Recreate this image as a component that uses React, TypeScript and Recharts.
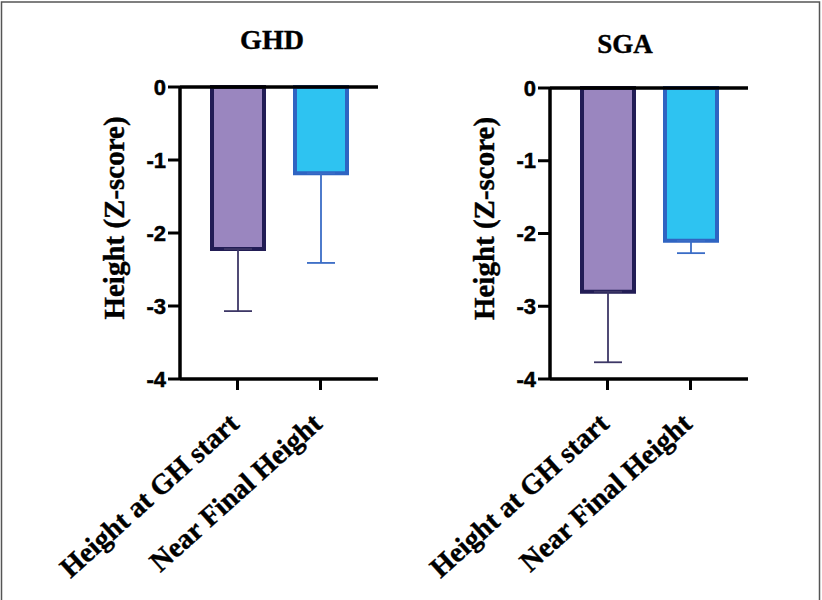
import React from "react";
import { BarChart, Bar, XAxis, YAxis, ErrorBar, ReferenceLine } from "recharts";

const categories = ["Height at GH start", "Near Final Height"];
const ghdMean = [-2.22, -1.18];
const ghdSd = [0.85, 1.23];
const sgaMean = [-2.8, -2.1];
const sgaSd = [0.97, 0.17];
const yTicks = [0, -1, -2, -3, -4];

const serif = "Liberation Serif";
const sans = "Liberation Sans";

// one row per category; each bar lives in its own series so it can have its own colours
const buildRows = (mean: number[], sd: number[]) =>
  categories.map((name, i) => ({
    name,
    start: i === 0 ? mean[i] : null,
    startErr: i === 0 ? [sd[i], 0] : null,
    final: i === 1 ? mean[i] : null,
    finalErr: i === 1 ? [sd[i], 0] : null,
  }));

const XTick = (props: any) => {
  const { x, y, payload } = props;
  return (
    <g transform={`translate(${x + 3},${y + 34}) rotate(-42)`}>
      <text x={0} y={0} textAnchor="end" fontFamily={serif} fontWeight={700} fontSize={28.5} fill="#000" stroke="#000" strokeWidth={0.4}>
        {payload.value}
      </text>
    </g>
  );
};

const YTick = (props: any) => {
  const { x, y, payload } = props;
  return (
    <text x={x} y={y + 7.5} textAnchor="end" fontFamily={sans} fontWeight={700} fontSize={22} fill="#000" stroke="#000" strokeWidth={0.5}>
      {payload.value}
    </text>
  );
};

const YLabel = (props: any) => {
  const vb = props.viewBox;
  const x = vb.x + 24;
  const y = vb.y + vb.height / 2 - 15;
  return (
    <text x={x} y={y} transform={`rotate(-90, ${x}, ${y})`} textAnchor="middle" fontFamily={serif} fontWeight={700} fontSize={29} fill="#000" stroke="#000" strokeWidth={0.4}>
      Height (Z-score)
    </text>
  );
};

const Panel: React.FC<{ mean: number[]; sd: number[]; left: number; top: number }> = ({ mean, sd, left, top }) => {
  const rows = buildRows(mean, sd);
  return (
    <div style={{ position: "absolute", left, top: 0 }}>
      <BarChart width={411} height={600} data={rows} margin={{ top, right: 33, bottom: 21, left: 100 }}>
        <XAxis
          xAxisId="a"
          dataKey="name"
          height={200}
          padding={{ left: 16, right: 16 }}
          axisLine={{ stroke: "#000", strokeWidth: 3.5 }}
          tickLine={{ stroke: "#000", strokeWidth: 3 }}
          tickSize={11}
          tickMargin={2}
          interval={0}
          tick={<XTick />}
        />
        <XAxis xAxisId="b" dataKey="name" hide padding={{ left: 16, right: 16 }} />
        <YAxis
          domain={[-4, 0]}
          ticks={yTicks}
          width={80}
          interval={0}
          axisLine={{ stroke: "#000", strokeWidth: 3.5 }}
          tickLine={{ stroke: "#000", strokeWidth: 3 }}
          tickSize={12}
          tickMargin={2}
          tick={<YTick />}
          label={<YLabel />}
        />
        <Bar xAxisId="a" dataKey="start" barSize={52} fill="#9A86BF" stroke="#221D55" strokeWidth={4} isAnimationActive={false}>
          <ErrorBar dataKey="startErr" direction="y" width={14} stroke="#3D3766" strokeWidth={1.8} isAnimationActive={false} />
        </Bar>
        <Bar xAxisId="b" dataKey="final" barSize={52} fill="#2EC3F1" stroke="#2F64C2" strokeWidth={4} isAnimationActive={false}>
          <ErrorBar dataKey="finalErr" direction="y" width={14} stroke="#3A6CC6" strokeWidth={1.8} isAnimationActive={false} />
        </Bar>
        <ReferenceLine xAxisId="a" y={0} stroke="#000" strokeWidth={3.5} />
      </BarChart>
    </div>
  );
};

export default function App() {
  return (
    <div style={{ position: "absolute", left: 0, top: 0, width: 822, height: 600, background: "#fff", overflow: "hidden" }}>
      <Panel mean={ghdMean} sd={ghdSd} left={0} top={87} />
      <Panel mean={sgaMean} sd={sgaSd} left={370} top={88} />
      <svg width={822} height={600} style={{ position: "absolute", left: 0, top: 0, pointerEvents: "none" }}>
        <rect x={1.5} y={2} width={818} height={610} fill="none" stroke="#555" strokeWidth={1.5} />
        <text x={272} y={49} textAnchor="middle" fontFamily={serif} fontWeight={700} fontSize={28} fill="#000" stroke="#000" strokeWidth={0.4}>GHD</text>
        <text x={625} y={53} textAnchor="middle" fontFamily={serif} fontWeight={700} fontSize={27} fill="#000" stroke="#000" strokeWidth={0.4}>SGA</text>
      </svg>
    </div>
  );
}
